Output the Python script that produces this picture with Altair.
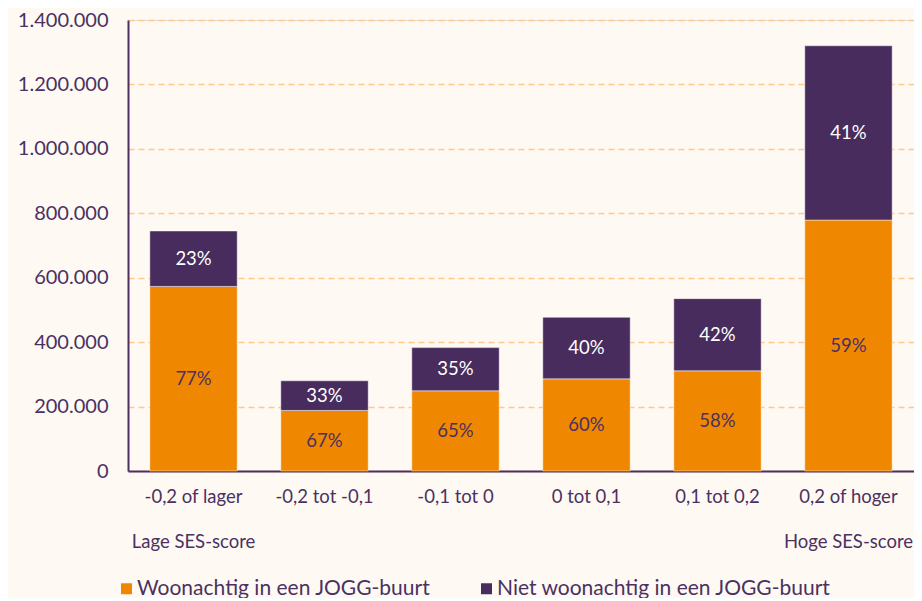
import altair as alt
import pandas as pd

categories = ["-0,2 of lager", "-0,2 tot -0,1", "-0,1 tot 0", "0 tot 0,1", "0,1 tot 0,2", "0,2 of hoger"]
series = ["Woonachtig in een JOGG-buurt", "Niet woonachtig in een JOGG-buurt"]
woon_values = [573000, 188000, 249000, 286000, 311000, 779000]
niet_values = [172000, 92000, 134000, 191000, 224000, 541000]
woon_pct = [77, 67, 65, 60, 58, 59]
niet_pct = [23, 33, 35, 40, 42, 41]
y_ticks = [0, 200000, 400000, 600000, 800000, 1000000, 1200000, 1400000]
end_categories = ["-0,2 of lager", "0,2 of hoger"]
end_labels = ["Lage SES-score", "Hoge SES-score"]

ORANGE = "#F08700"
PURPLE = "#482C5E"
TEXT = "#4A3162"
GRID = "#FFC98C"
BG = "#FFF9F3"
FONT = "Lato"

rows = []
for i, c in enumerate(categories):
    rows.append({"cat": c, "series": series[0], "value": woon_values[i], "pct": woon_pct[i], "ord": 0})
    rows.append({"cat": c, "series": series[1], "value": niet_values[i], "pct": niet_pct[i], "ord": 1})
df = pd.DataFrame(rows)
df_end = pd.DataFrame({"cat": end_categories, "label": end_labels})

x_enc = alt.X(
    "cat:N",
    sort=categories,
    scale=alt.Scale(paddingInner=0.333, paddingOuter=0.1667),
    axis=alt.Axis(
        title=None, labelAngle=0, ticks=False, grid=False,
        domainColor=TEXT, domainWidth=2, labelColor=TEXT,
        labelFontSize=18.5, labelFont=FONT, labelPadding=16,
    ),
)

bars = alt.Chart(df).mark_bar(stroke="#FFFFFF", strokeOpacity=0.45, strokeWidth=1).encode(
    x=x_enc,
    y=alt.Y(
        "value:Q",
        stack="zero",
        scale=alt.Scale(domain=[0, 1400000], nice=False),
        axis=alt.Axis(
            title=None, values=y_ticks, ticks=False,
            domainColor=TEXT, domainWidth=2,
            grid=True, gridColor=GRID, gridDash=[6, 4], gridWidth=1.5,
            labelColor=TEXT, labelFontSize=20, labelFont=FONT, labelPadding=20,
            labelExpr="replace(replace(format(datum.value, ','), ',', '.'), ',', '.')",
        ),
    ),
    color=alt.Color(
        "series:N",
        scale=alt.Scale(domain=series, range=[ORANGE, PURPLE]),
        legend=alt.Legend(
            title=None, orient="none", legendX=-12, legendY=558,
            direction="horizontal", symbolType="square", symbolSize=121,
            symbolStrokeWidth=0, labelFontSize=21, labelFont=FONT,
            labelColor=TEXT, labelLimit=500, columnPadding=45,
            labelOffset=0, padding=0,
        ),
    ),
    order=alt.Order("ord:Q"),
)

labels = alt.Chart(df).transform_stack(
    stack="value", groupby=["cat"], as_=["y0", "y1"], sort=[alt.SortField("ord")]
).transform_calculate(
    mid="(datum.y0 + datum.y1) / 2", label="datum.pct + '%'"
).mark_text(font=FONT, fontSize=18.5, baseline="middle").encode(
    x=alt.X("cat:N", sort=categories),
    y=alt.Y("mid:Q"),
    text="label:N",
    color=alt.condition("datum.ord == 0", alt.value(TEXT), alt.value("#FFFFFF")),
)

ends = alt.Chart(df_end).mark_text(font=FONT, fontSize=18.5, baseline="middle", color=TEXT).encode(
    x=alt.X("cat:N", sort=categories),
    y=alt.value(522),
    text="label:N",
)

chart = alt.layer(bars, labels, ends).properties(
    width=786,
    height=451,
    background=BG,
    padding={"left": 120, "top": 12, "right": 0, "bottom": 127},
    autosize=alt.AutoSizeParams(type="none"),
).configure_view(strokeWidth=0).configure(font=FONT)

chart.save("out.html", embed_options={"renderer": "svg", "actions": False})
